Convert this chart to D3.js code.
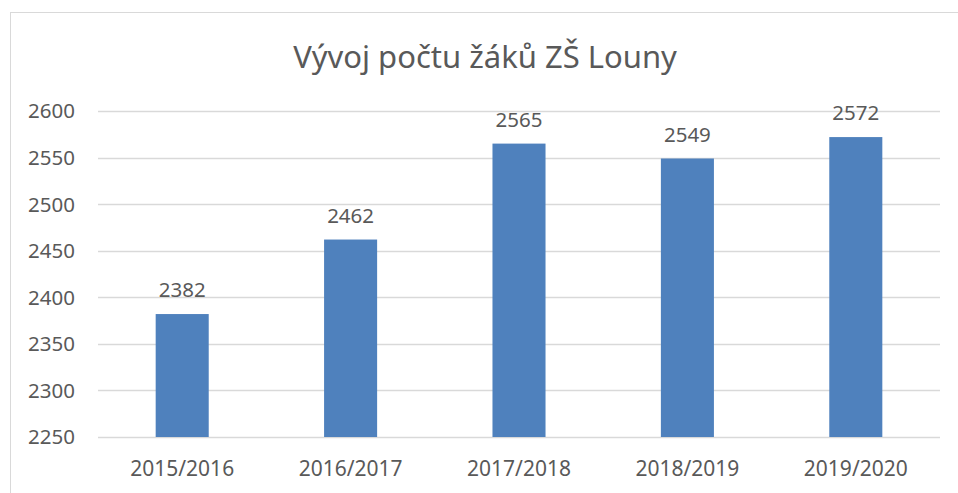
<!DOCTYPE html>
<html>
<head>
<meta charset="utf-8">
<script src="https://cdn.jsdelivr.net/npm/d3@7"></script>
<style>
  body { margin: 0; background: #fff; }
  text { font-family: "Noto Sans", sans-serif; fill: #595959; }
</style>
</head>
<body>
<svg></svg>
<script>
// chart data
var years = ["2015/2016", "2016/2017", "2017/2018", "2018/2019", "2019/2020"];
var pupils = [2382, 2462, 2565, 2549, 2572];
var yTicks = [2250, 2300, 2350, 2400, 2450, 2500, 2550, 2600];
var title = "Vývoj počtu žáků ZŠ Louny";

var svgWidth = 958,
    svgHeight = 493;

var svg = d3.select('svg')
    .attr("width", svgWidth)
    .attr("height", svgHeight);

// chart frame
svg.append("rect")
    .attr("x", 10.5)
    .attr("y", 12.5)
    .attr("width", 960)
    .attr("height", 500)
    .attr("fill", "none")
    .attr("stroke", "#d9d9d9");

var plotLeft = 98, plotRight = 940, plotTop = 111, plotBottom = 437;

var xScale = d3.scaleBand()
    .domain(years)
    .range([plotLeft, plotRight])
    .paddingInner(0.685)
    .paddingOuter(0.3425);

var yScale = d3.scaleLinear()
    .domain([2250, 2600])
    .range([plotBottom, plotTop]);

// gridlines
svg.selectAll("line.grid")
    .data(yTicks)
    .enter()
    .append("line")
    .attr("class", "grid")
    .attr("x1", plotLeft)
    .attr("x2", plotRight)
    .attr("y1", function(d) { return Math.round(yScale(d)) + 0.5; })
    .attr("y2", function(d) { return Math.round(yScale(d)) + 0.5; })
    .attr("stroke", "#d9d9d9")
    .attr("stroke-width", 1.5);

// y labels
svg.selectAll("text.ytick")
    .data(yTicks)
    .enter()
    .append("text")
    .attr("class", "ytick")
    .attr("x", 75)
    .attr("y", function(d) { return yScale(d); })
    .attr("dy", "0.36em")
    .attr("text-anchor", "end")
    .style("font-size", "20.5px")
    .text(function(d) { return d; });

// bars
svg.selectAll("rect.bar")
    .data(pupils)
    .enter()
    .append("rect")
    .attr("class", "bar")
    .attr("x", function(d, i) { return xScale(years[i]); })
    .attr("y", function(d) { return yScale(d); })
    .attr("width", xScale.bandwidth())
    .attr("height", function(d) { return plotBottom - yScale(d); })
    .attr("fill", "#4f81bd");

// value labels
svg.selectAll("text.value")
    .data(pupils)
    .enter()
    .append("text")
    .attr("class", "value")
    .attr("x", function(d, i) { return xScale(years[i]) + xScale.bandwidth() / 2; })
    .attr("y", function(d) { return yScale(d) - 17; })
    .attr("text-anchor", "middle")
    .style("font-size", "20.5px")
    .text(function(d) { return d; });

// category labels
svg.selectAll("text.xtick")
    .data(years)
    .enter()
    .append("text")
    .attr("class", "xtick")
    .attr("x", function(d) { return xScale(d) + xScale.bandwidth() / 2; })
    .attr("y", 476)
    .attr("text-anchor", "middle")
    .style("font-size", "21px")
    .text(function(d) { return d; });

// title
svg.append("text")
    .attr("x", 485)
    .attr("y", 68)
    .attr("text-anchor", "middle")
    .style("font-size", "31px")
    .text(title);
</script>
</body>
</html>
